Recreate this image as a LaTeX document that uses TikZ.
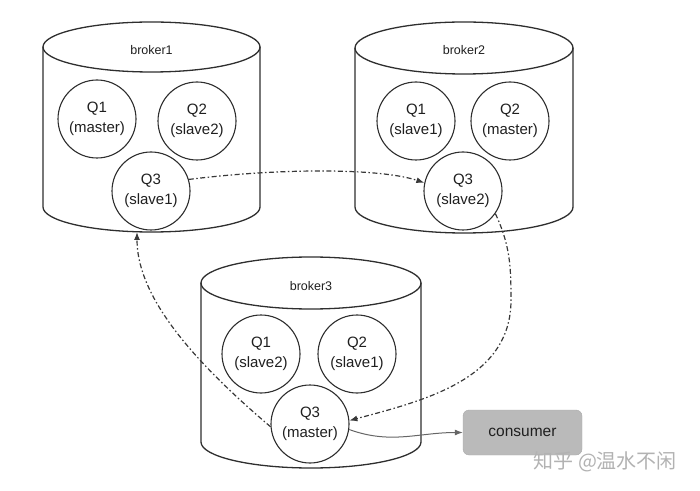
\documentclass[tikz,border=0pt]{standalone}
\usepackage{fontspec}
\setmainfont{Liberation Sans}
\newfontfamily\cjkfont{Noto Sans CJK SC}
\usetikzlibrary{arrows.meta}
\tikzset{
  cylline/.style={draw=black!82, line width=1.3pt},
  queue/.style={circle, draw=black!82, line width=1.1pt, minimum size=78pt, inner sep=0pt, align=center, font=\fontsize{15}{19.5}\selectfont, text=black!88},
  blabel/.style={font=\fontsize{12.5}{15}\selectfont, text=black!88},
  sync/.style={draw=black!78, line width=1.2pt, dash pattern=on 5pt off 2.5pt on 1.5pt off 2.5pt, -{Latex[length=8pt,width=6pt]}},
  consume/.style={draw=black!60, line width=1pt, -{Latex[length=8pt,width=6pt]}},
  consbox/.style={rounded corners=6pt, fill=black!27, draw=black!33, minimum width=119pt, minimum height=45pt, font=\fontsize{15.5}{18}\selectfont, text=black!88},
  wmark/.style={font=\cjkfont\fontsize{20}{22}\selectfont, text=black!30}
}
\newcommand\mycyl[5]{%
  \draw[cylline] (#1,#2) ellipse[x radius=#4, y radius=#5];
  \draw[cylline] (#1-#4,#2) -- (#1-#4,#3) arc[start angle=180, end angle=360, x radius=#4, y radius=#5] -- (#1+#4,#2);
}
\begin{document}
\begin{tikzpicture}[x=1pt,y=1pt]
\useasboundingbox (0,0) rectangle (700,490);
% broker1
\mycyl{151.5}{443}{283}{108.5}{25}
\node[blabel] (b1) at (151.5,440) {broker1};
\node[queue] (b1q1) at (97,371) {Q1\\(master)};
\node[queue] (b1q2) at (197,369) {Q2\\(slave2)};
\node[queue] (b1q3) at (151,299) {Q3\\(slave1)};
\coordinate (b1bot) at (137,258);
% broker2
\mycyl{464}{442}{283}{109}{26}
\node[blabel] (b2) at (464,440) {broker2};
\node[queue] (b2q1) at (416,369) {Q1\\(slave1)};
\node[queue] (b2q2) at (510,369) {Q2\\(master)};
\node[queue] (b2q3) at (463,299) {Q3\\(slave2)};
% broker3
\mycyl{311}{207}{48}{110}{26}
\node[blabel] (b3) at (311,204) {broker3};
\node[queue] (b3q1) at (261,136) {Q1\\(slave2)};
\node[queue] (b3q2) at (357,136) {Q2\\(slave1)};
\node[queue] (b3q3) at (310,66) {Q3\\(master)};
% consumer
\node[consbox] (cons) at (522.5,57.5) {consumer};
% connectors
\coordinate (wB) at (511,190);
\draw[sync] (b1q3.17) .. controls (280,322) and (380,322) .. (b2q3.168);
\draw[sync] (b2q3.-35) to[out=-65,in=90] (wB) to[out=-90,in=15] (b3q3.5);
\draw[sync] (b3q3.184) .. controls (180,140) and (137,200) .. (b1bot);
\draw[consume] (b3q3.-8) to[out=-20,in=180] (cons.west);
% watermark
\node[wmark, anchor=west] (wm) at (530,28) {知乎 @温水不闲};
\end{tikzpicture}
\end{document}
